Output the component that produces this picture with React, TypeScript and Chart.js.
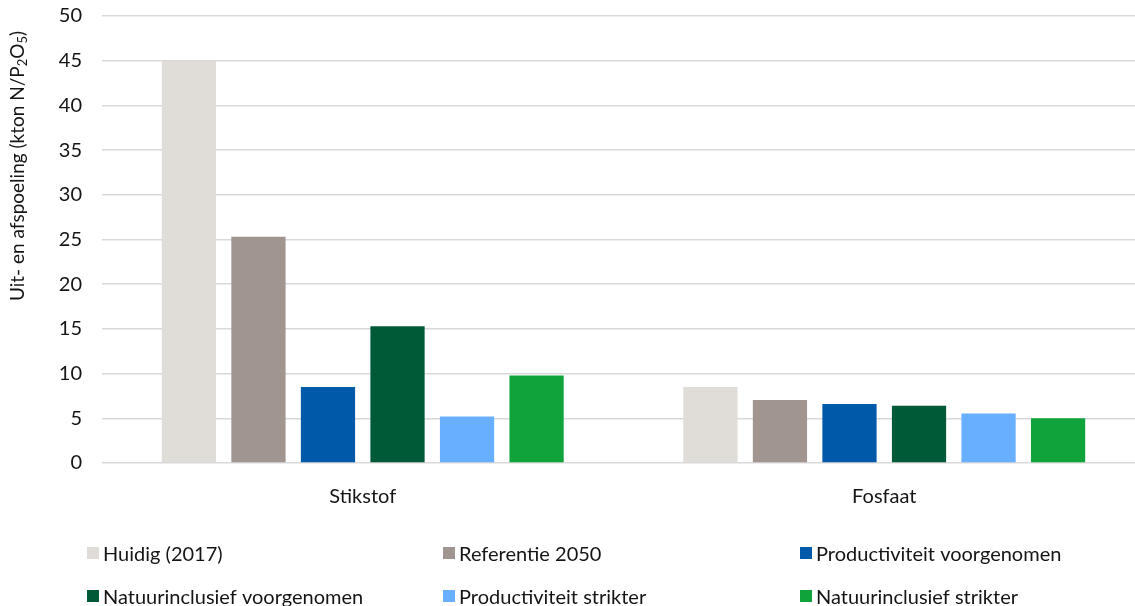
import React, { useEffect, useRef } from "react";
import { Chart, registerables } from "chart.js";

Chart.register(...registerables);

const categories = ["Stikstof", "Fosfaat"];
const seriesNames = [
  "Huidig (2017)",
  "Referentie 2050",
  "Productiviteit voorgenomen",
  "Natuurinclusief voorgenomen",
  "Productiviteit strikter",
  "Natuurinclusief strikter",
];
const huidig = [45.0, 8.5];
const referentie = [25.3, 7.05];
const prodVoorgenomen = [8.5, 6.6];
const natuurVoorgenomen = [15.3, 6.4];
const prodStrikter = [5.2, 5.55];
const natuurStrikter = [9.8, 5.0];
const seriesColors = ["#e0dcd8", "#a0958f", "#0059a9", "#005a37", "#68afff", "#10a33c"];
const yTicks = [0, 5, 10, 15, 20, 25, 30, 35, 40, 45, 50];

const FONT = "Lato, 'Noto Sans', sans-serif";
const TEXT = "#151515";

// Rotated y-axis title with subscript digits
const axisTitlePlugin = {
  id: "axisTitle",
  afterDraw(chart: any) {
    const ctx = chart.ctx;
    const parts: [string, boolean][] = [
      ["Uit- en afspoeling (kton N/P", false],
      ["2", true],
      ["O", false],
      ["5", true],
      [")", false],
    ];
    const big = `19px ${FONT}`;
    const small = `13px ${FONT}`;
    ctx.save();
    let total = 0;
    for (const [t, sub] of parts) {
      ctx.font = sub ? small : big;
      total += ctx.measureText(t).width;
    }
    ctx.translate(18, 166);
    ctx.rotate(-Math.PI / 2);
    ctx.fillStyle = TEXT;
    ctx.textBaseline = "middle";
    ctx.textAlign = "left";
    let x = -total / 2;
    for (const [t, sub] of parts) {
      ctx.font = sub ? small : big;
      ctx.fillText(t, x, sub ? 5 : 0);
      x += ctx.measureText(t).width;
    }
    ctx.restore();
  },
};

// Legend laid out in a fixed three-column grid
const gridLegendPlugin = {
  id: "gridLegend",
  afterDraw(chart: any) {
    const ctx = chart.ctx;
    const colX = [87, 443, 800];
    const rowY = [553, 596];
    ctx.save();
    ctx.font = `20px ${FONT}`;
    ctx.textBaseline = "middle";
    ctx.textAlign = "left";
    chart.data.datasets.forEach((ds: any, i: number) => {
      const x = colX[i % 3];
      const y = rowY[Math.floor(i / 3)];
      ctx.fillStyle = ds.backgroundColor;
      ctx.fillRect(x, y - 6, 12, 12);
      ctx.fillStyle = TEXT;
      ctx.fillText(ds.label, x + 16, y + 2);
    });
    ctx.restore();
  },
};

export default function App() {
  const canvasRef = useRef<HTMLCanvasElement | null>(null);

  useEffect(() => {
    document.body.style.margin = "0";
    const seriesData = [huidig, referentie, prodVoorgenomen, natuurVoorgenomen, prodStrikter, natuurStrikter];
    const chart = new Chart(canvasRef.current as HTMLCanvasElement, {
      type: "bar",
      data: {
        labels: categories,
        datasets: seriesNames.map((name, i) => ({
          label: name,
          data: seriesData[i],
          backgroundColor: seriesColors[i],
          borderWidth: 0,
          categoryPercentage: 0.8,
          barPercentage: 0.78,
        })),
      },
      options: {
        animation: false,
        responsive: true,
        maintainAspectRatio: false,
        layout: { padding: { top: 16, right: 1, left: 0, bottom: 0 } },
        plugins: {
          legend: { display: false },
          tooltip: { enabled: false },
        },
        scales: {
          x: {
            grid: { display: false, drawTicks: false },
            border: { display: false },
            ticks: {
              color: TEXT,
              font: { family: FONT, size: 20 },
              padding: 22,
            },
            afterFit(scale: any) {
              scale.height = 143;
            },
          },
          y: {
            min: 0,
            max: 50,
            afterBuildTicks(scale: any) {
              scale.ticks = yTicks.map((v) => ({ value: v }));
            },
            grid: { color: "#d9d9d9", lineWidth: 1.5, drawTicks: false },
            border: { display: false },
            ticks: {
              color: TEXT,
              font: { family: FONT, size: 20 },
              padding: 20,
            },
            afterFit(scale: any) {
              scale.width = 102;
              scale.paddingTop = 0;
              scale.paddingBottom = 0;
            },
          },
        },
      },
      plugins: [axisTitlePlugin, gridLegendPlugin],
    });
    return () => chart.destroy();
  }, []);

  return (
    <div style={{ width: 1135, height: 606, overflow: "hidden", position: "relative", background: "#fff" }}>
      <div style={{ width: 1146, height: 606, position: "absolute", left: 0, top: 0 }}>
        <canvas ref={canvasRef} />
      </div>
    </div>
  );
}
